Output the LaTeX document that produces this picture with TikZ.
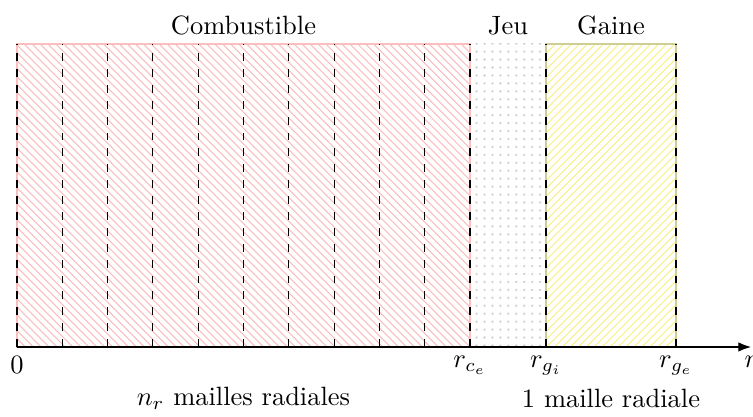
\documentclass[tikz,border=0pt]{standalone}
\usepackage{tikz}
\usetikzlibrary{arrows.meta,patterns,positioning}
\definecolor{fuelred}{RGB}{250,190,190}
\definecolor{cladyellow}{RGB}{250,240,140}
\definecolor{cladborder}{RGB}{205,205,150}

\begin{document}
\begin{tikzpicture}[
  x=0.01328cm, y=-0.01328cm,
  fuel/.style={draw=fuelred, pattern=north west lines, pattern color=fuelred},
  gap/.style={pattern=dots, pattern color=gray!35},
  clad/.style={draw=cladborder, pattern=north east lines, pattern color=cladyellow},
  mesh/.style={dashed, thin}
]
  \useasboundingbox (0,0) rectangle (753,417);
  % axis points
  \coordinate (o) at (17,347);
  \coordinate (rce) at (470,347);
  \coordinate (rgi) at (546,347);
  \coordinate (rge) at (676,347);
  \coordinate (rend) at (751,347);
  % regions
  \fill[gap] (470,44) rectangle (546,347);
  \draw[fuel] (17,44) rectangle (470,347);
  \draw[clad] (546,44) rectangle (676,347);
  % radial meshes
  \foreach \i in {0,...,10} {
    \draw[mesh] (17+45.3*\i,347) -- (17+45.3*\i,44);
  }
  \foreach \x in {546,676} {
    \draw[mesh] (\x,347) -- (\x,44);
  }
  \draw[-{Latex}] (o) -- (rend) node[below] (rlab) {$r$};
  \node[below] (zero) at (o) {$0$};
  \node[below] (ce) at (rce) {$r_{c_e}$};
  \node[below] (gi) at (rgi) {$r_{g_i}$};
  \node[below] (ge) at (rge) {$r_{g_e}$};
  % titles
  \node[above] (comb) at (243.5,44) {Combustible};
  \node[above] (jeu) at (508,44) {Jeu};
  \node[above] (gaine) at (611,44) {Gaine};
  \node (nmesh) at (243.5,398) {$n_r$ mailles radiales};
  \node (onemesh) at (611,398) {1 maille radiale};
\end{tikzpicture}
\end{document}
